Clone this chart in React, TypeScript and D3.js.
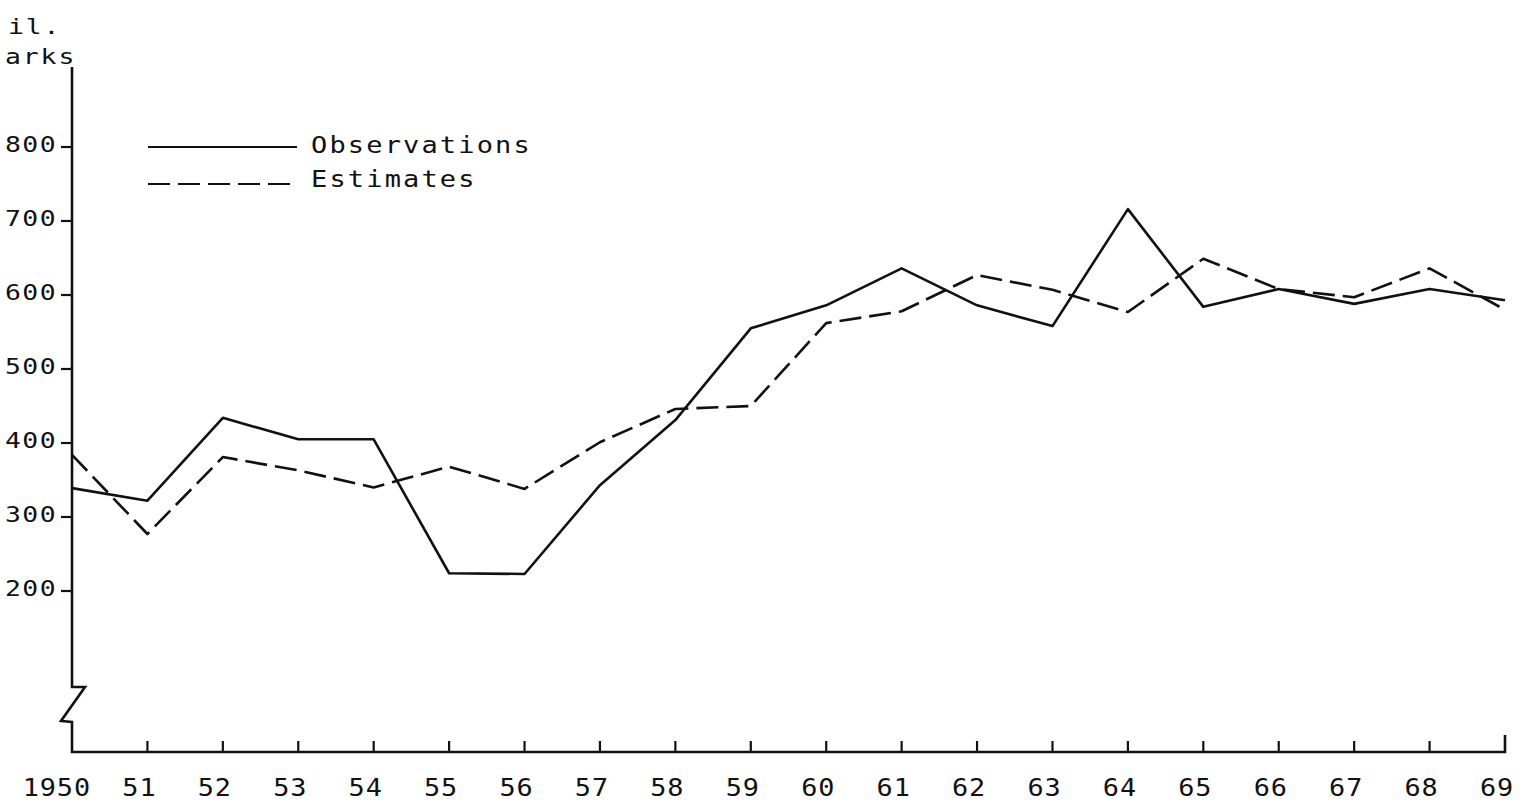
import React from "react";
import * as d3 from "d3";

const years = [1950, 1951, 1952, 1953, 1954, 1955, 1956, 1957, 1958, 1959, 1960, 1961, 1962, 1963, 1964, 1965, 1966, 1967, 1968, 1969];
const yearLabels = ["1950", "51", "52", "53", "54", "55", "56", "57", "58", "59", "60", "61", "62", "63", "64", "65", "66", "67", "68", "69"];
const observations = [339, 322, 434, 405, 405, 224, 223, 343, 431, 555, 586, 636, 586, 558, 716, 584, 608, 588, 608, 593];
const estimates = [384, 277, 381, 363, 340, 368, 338, 401, 446, 450, 562, 578, 627, 607, 577, 649, 608, 597, 636, 580];
const yTicks = [200, 300, 400, 500, 600, 700, 800];
const legendLabels = ["Observations", "Estimates"];
const unitLines = ["il.", "arks"];

const W = 1540;
const H = 806;
const INK = "#111";
const FONT = "'DejaVu Sans Mono', 'Liberation Mono', monospace";

type TProps = {
  x: number;
  y: number;
  size: number;
  sx: number;
  ls: number;
  anchor?: "start" | "middle" | "end";
  children: string;
};

function T({ x, y, size, sx, ls, anchor = "start", children }: TProps) {
  return (
    <text
      transform={`translate(${x},${y}) scale(${sx},1)`}
      fontSize={size}
      letterSpacing={ls}
      textAnchor={anchor}
      fill={INK}
    >
      {children}
    </text>
  );
}

export default function App() {
  const x = d3.scaleLinear().domain([1950, 1969]).range([72, 1505]);
  const y = d3.scaleLinear().domain([200, 800]).range([591, 147]);
  const axisX = x(1950);
  const baseY = 752;
  const line = d3
    .line<number>()
    .x((_, i) => x(years[i]))
    .y((d) => y(d));

  const axisPath = d3.path();
  axisPath.moveTo(axisX, 67);
  axisPath.lineTo(axisX, 687);
  axisPath.lineTo(axisX + 13, 687);
  axisPath.lineTo(axisX - 11, 721);
  axisPath.lineTo(axisX, 722);
  axisPath.lineTo(axisX, baseY);
  axisPath.lineTo(x(1969), baseY);
  axisPath.lineTo(x(1969), baseY - 17);

  return (
    <svg
      width={W}
      height={H}
      style={{ position: "absolute", left: 0, top: 0, background: "#fff" }}
      fontFamily={FONT}
    >
      <rect x={0} y={0} width={W} height={H} fill="#fff" />
      {/* unit label */}
      <T x={8} y={34} size={22} sx={1.2} ls={1.6}>
        {unitLines[0]}
      </T>
      <T x={5} y={64} size={22} sx={1.2} ls={1.6}>
        {unitLines[1]}
      </T>

      {/* axes */}
      <path d={axisPath.toString()} fill="none" stroke={INK} strokeWidth={2.6} strokeLinejoin="miter" />

      {/* y ticks */}
      {yTicks.map((t) => (
        <g key={t}>
          <line x1={axisX - 11} x2={axisX} y1={y(t)} y2={y(t)} stroke={INK} strokeWidth={2.2} />
          <T x={5} y={y(t) + 5} size={22} sx={1.2} ls={1.2}>
            {String(t)}
          </T>
        </g>
      ))}

      {/* x ticks */}
      {years.map((yr, i) =>
        i === 0 || i === years.length - 1 ? null : (
          <line key={yr} x1={x(yr)} x2={x(yr)} y1={baseY} y2={baseY - 11} stroke={INK} strokeWidth={2.2} />
        )
      )}
      {years.map((yr, i) => (
        <T
          key={"l" + yr}
          x={i === 0 ? x(yr) + 19 : x(yr) - 8}
          y={796}
          size={24}
          sx={1.12}
          ls={0.8}
          anchor={i === 0 ? "end" : "middle"}
        >
          {yearLabels[i]}
        </T>
      ))}

      {/* data lines */}
      <path d={line(observations) || ""} fill="none" stroke={INK} strokeWidth={2.6} strokeLinejoin="round" />
      <path
        d={line(estimates) || ""}
        fill="none"
        stroke={INK}
        strokeWidth={2.6}
        strokeDasharray="22 8"
        strokeLinejoin="round"
      />

      {/* legend */}
      <line x1={148} x2={297} y1={147} y2={147} stroke={INK} strokeWidth={2.2} />
      <T x={311} y={153} size={22.5} sx={1.2} ls={1.8}>
        {legendLabels[0]}
      </T>
      <line x1={148} x2={297} y1={184} y2={184} stroke={INK} strokeWidth={2.2} strokeDasharray="22 8" />
      <T x={311} y={187} size={22.5} sx={1.2} ls={1.8}>
        {legendLabels[1]}
      </T>
    </svg>
  );
}
